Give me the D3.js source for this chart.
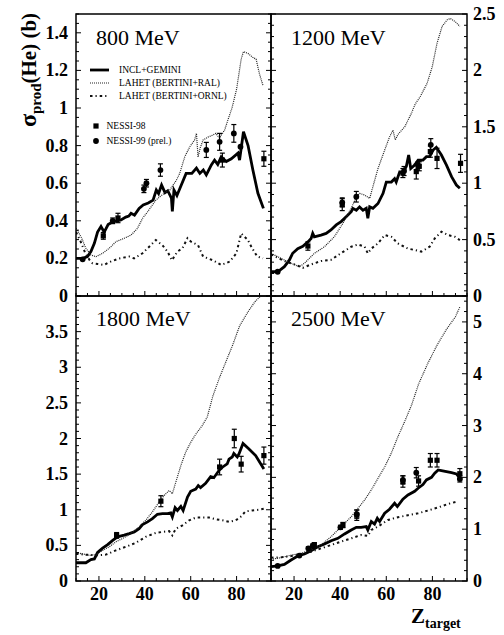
<!DOCTYPE html>
<html>
<head>
<meta charset="utf-8">
<script src="https://cdn.jsdelivr.net/npm/d3@7"></script>
<style>
  body { margin: 0; background: #fff; }
  svg { font-family: "Liberation Serif", "Times New Roman", serif; }
</style>
</head>
<body>
<svg id="chart" width="504" height="635"></svg>
<script>
// ---- data: [Z, sigma (b)] for models, [Z, sigma, err] for data
const energies = ["800 MeV", "1200 MeV", "1800 MeV", "2500 MeV"];
const yMax = [1.5, 2.5, 4, 5.5];
const yMajor = [0.2, 0.5, 0.5, 1];
const yMinor = [0.05, 0.1, 0.1, 0.2];
const yLabelMax = [1.4, 2.5, 3.5, 5];
const zTicks = [20, 40, 60, 80];

const incl800 = [[10,0.2],[13,0.2],[15,0.21],[16.5,0.236],[18,0.28],[19.4,0.34],[20.9,0.37],[22.3,0.34],[24,0.38],[26,0.395],[28,0.4],[29.6,0.404],[31.7,0.42],[33,0.425],[34,0.44],[35.5,0.43],[37.5,0.466],[39.3,0.484],[41.5,0.495],[43.6,0.51],[45,0.564],[46,0.545],[47.3,0.59],[48.8,0.55],[50,0.56],[51.6,0.52],[52,0.45],[52.7,0.564],[54,0.535],[55.9,0.59],[58,0.652],[60.5,0.652],[62.5,0.68],[64,0.652],[65.5,0.67],[66.8,0.644],[69,0.697],[70.4,0.723],[71.8,0.7],[73.3,0.74],[75.5,0.715],[77.7,0.73],[80.6,0.76],[81.3,0.723],[83,0.874],[85,0.8],[87.1,0.67],[89.3,0.546],[91.7,0.466]];
const ral800 = [[10,0.36],[12.2,0.315],[14.3,0.254],[16.5,0.218],[18.7,0.209],[21.6,0.227],[24.5,0.254],[27.4,0.289],[31,0.307],[34,0.324],[36.8,0.36],[39,0.413],[41.2,0.448],[44.8,0.51],[48.4,0.546],[50.9,0.564],[53.8,0.617],[55.2,0.652],[57.4,0.74],[59.6,0.794],[61.7,0.83],[62.5,0.865],[63.2,0.74],[64.2,0.79],[65.4,0.83],[67.5,0.845],[69.7,0.856],[71,0.865],[72.5,0.84],[74.8,0.883],[76.2,0.936],[78,1.0],[80,1.1],[82,1.26],[83,1.3],[85,1.29],[87,1.27],[88.5,1.26],[90,1.18],[91.5,1.12]];
const ornl800 = [[10,0.34],[12,0.29],[14,0.23],[16,0.19],[17.2,0.174],[19.5,0.17],[22.3,0.165],[24.5,0.18],[28.8,0.2],[33.2,0.21],[35.3,0.2],[39,0.227],[41.9,0.262],[44.8,0.298],[47.7,0.27],[49.9,0.236],[51.8,0.19],[54.2,0.236],[56.4,0.254],[58.6,0.307],[60,0.29],[63.2,0.27],[65.4,0.21],[69.7,0.19],[73.3,0.165],[77,0.183],[79.9,0.227],[82,0.333],[84.9,0.298],[86.5,0.26],[89,0.21],[91.5,0.2]];
const n98_800 = [[21.9,0.32,0.018],[28.3,0.415,0.025],[73.8,0.723,0.037],[91.9,0.73,0.04]];
const n99_800 = [[12.9,0.195,0],[26,0.4,0.015],[39.6,0.57,0.02],[40.7,0.6,0.02],[46.8,0.67,0.033],[66.8,0.777,0.04],[72.6,0.82,0.045],[78.8,0.865,0.047],[81.7,0.794,0]];

const incl1200 = [[10,0.215],[12.9,0.215],[15.8,0.26],[18,0.32],[19.4,0.379],[21.6,0.42],[23.8,0.44],[26,0.48],[27.4,0.51],[28.1,0.555],[28.8,0.525],[31.7,0.54],[33.9,0.555],[36,0.585],[38.3,0.63],[40.4,0.66],[42.6,0.703],[44.8,0.747],[45.5,0.777],[47,0.76],[48.4,0.79],[49.9,0.76],[51.3,0.777],[52,0.688],[52.8,0.79],[54.2,0.777],[56.4,0.82],[58.6,0.91],[60,1.01],[62.2,1.01],[63.6,1.04],[64.3,1.01],[65.8,1.1],[67.2,1.09],[68.7,1.15],[69.7,1.25],[70.6,1.13],[72.3,1.16],[73.8,1.205],[75.9,1.205],[77.4,1.235],[78.8,1.235],[80.3,1.294],[81.7,1.318],[83.9,1.25],[86.1,1.16],[88.3,1.058],[90.4,0.984],[91.9,0.955]];
const ral1200 = [[10,0.378],[14.3,0.334],[18.7,0.29],[22.3,0.26],[24.5,0.29],[28.8,0.378],[33.2,0.437],[37.5,0.526],[41.2,0.645],[44.8,0.777],[47,0.88],[48.4,0.91],[50.6,0.895],[52.8,0.865],[54.2,0.97],[56.4,1.13],[59.3,1.294],[61.4,1.41],[62.9,1.47],[63.9,1.383],[65,1.43],[68,1.5],[70.9,1.62],[72.5,1.7],[74.8,1.77],[77.7,1.886],[79.9,2.03],[82,2.24],[84.2,2.39],[86.5,2.45],[87.8,2.46],[90,2.43],[91.9,2.39]];
const ornl1200 = [[10,0.37],[15.8,0.31],[20.1,0.28],[23.8,0.25],[27.4,0.28],[31.7,0.31],[36,0.32],[40.4,0.38],[44.8,0.437],[47.7,0.457],[50.6,0.437],[52,0.378],[53.5,0.42],[56.4,0.466],[59.3,0.54],[62.2,0.525],[65,0.466],[69.4,0.42],[72.3,0.408],[75.2,0.393],[78.8,0.437],[81,0.51],[83.9,0.57],[86.8,0.54],[89.7,0.525],[91.9,0.496]];
const n98_1200 = [[26,0.443,0.037],[40.9,0.81,0.053],[67.2,1.09,0.04],[73,1.103,0.066],[74.3,1.15,0.04],[79.1,1.28,0.05],[82,1.22,0.09],[92.2,1.176,0.08]];
const n99_1200 = [[12.9,0.215,0],[40.9,0.83,0.04],[47,0.88,0.047],[67.7,1.108,0.04],[73.8,1.16,0.03],[79.3,1.34,0.055]];

const incl1800 = [[10,0.256],[14.3,0.256],[16.5,0.3],[18,0.31],[19.4,0.4],[21.6,0.46],[23.8,0.51],[26,0.57],[28.1,0.62],[31,0.643],[33.2,0.665],[35.4,0.689],[37.5,0.735],[39,0.792],[41.2,0.83],[43.3,0.875],[45.5,0.936],[47.7,0.945],[49.9,0.945],[51.3,0.955],[52,0.898],[53.2,1.03],[54.2,0.99],[55.7,1.047],[56.7,0.99],[58.6,1.178],[60,1.26],[62.2,1.29],[63.3,1.34],[64.3,1.31],[66.5,1.37],[68.7,1.466],[70.1,1.45],[72.3,1.55],[73.8,1.597],[75.9,1.643],[76.7,1.71],[78.1,1.74],[78.8,1.79],[80.3,1.74],[81,1.78],[82.8,1.93],[85.4,1.854],[88.3,1.76],[91.9,1.572]];
const ral1800 = [[10,0.4],[12.9,0.38],[15.8,0.36],[18.7,0.37],[21.6,0.43],[24.5,0.48],[27.4,0.55],[30.3,0.596],[33.9,0.665],[37.5,0.76],[40.4,0.852],[43.3,0.969],[46.2,1.108],[48.4,1.2],[50.6,1.27],[52,1.225],[53.5,1.387],[55.7,1.62],[57.8,1.807],[60,1.946],[62.2,2.06],[63.6,2.12],[65,2.18],[67.2,2.3],[69.7,2.6],[72.5,2.85],[75.5,3.09],[78.4,3.32],[81.3,3.58],[85,3.78],[88,3.92],[90.5,4.0],[92,4.1]];
const ornl1800 = [[10,0.38],[14.3,0.37],[18.7,0.36],[23,0.37],[27.4,0.43],[31.7,0.48],[36,0.535],[40.4,0.62],[44.8,0.675],[47.7,0.689],[50.6,0.7],[52,0.64],[53.5,0.735],[56.4,0.78],[59.3,0.85],[62.2,0.89],[65,0.89],[68,0.89],[70.9,0.866],[73.8,0.852],[76.7,0.83],[79.6,0.852],[81.7,0.898],[83.9,0.977],[86.8,0.99],[89.7,1.0],[91.9,1.015]];
const n98_1800 = [[27.7,0.64,0.04],[47,1.12,0.077],[72.6,1.6,0.11],[79,2.0,0.13],[82,1.64,0.11],[91.9,1.76,0.12]];
const n99_1800 = [];

const incl2500 = [[10,0.277],[12.9,0.29],[15.8,0.32],[18.7,0.405],[21.6,0.483],[24.5,0.52],[27.4,0.585],[30.3,0.66],[33.2,0.714],[36.1,0.778],[39,0.823],[41.9,0.908],[44.8,0.985],[47,1.036],[49.1,1.036],[51.3,1.049],[52,0.985],[53.5,1.147],[54.9,1.1],[56.1,1.21],[57.1,1.147],[59.3,1.307],[61.4,1.385],[63.6,1.5],[64.8,1.436],[67.2,1.58],[69.4,1.66],[72.3,1.73],[73.8,1.79],[75.9,1.86],[77.4,1.95],[79.6,2.0],[81,2.08],[82.5,2.143],[83.9,2.13],[88.3,2.092],[90.4,2.066],[91.9,1.983]];
const ral2500 = [[10,0.418],[14.3,0.45],[18.7,0.5],[23,0.535],[27.4,0.6],[31.7,0.695],[36.1,0.856],[39,0.985],[41.9,1.114],[44.8,1.24],[47.7,1.4],[50.6,1.564],[53.5,1.757],[56.4,1.982],[59.3,2.2],[62.2,2.47],[65,2.78],[68,3.08],[71,3.4],[74,3.8],[78,4.2],[82,4.55],[86,4.85],[90,5.1],[92,5.3]];
const ornl2500 = [[10,0.45],[14.3,0.456],[18.7,0.48],[23,0.515],[27.4,0.566],[31.7,0.63],[36.1,0.695],[40.4,0.76],[44.8,0.823],[49.1,0.888],[52,0.87],[53.5,0.985],[56.4,1.05],[60.7,1.178],[65,1.23],[69.4,1.27],[73.8,1.307],[78.1,1.36],[82.5,1.42],[86.8,1.487],[90.4,1.53]];
const n98_2500 = [[28.8,0.7,0.04],[41.2,1.08,0.05],[47.2,1.27,0.1],[67.2,1.92,0.11],[74,1.93,0.1],[79.1,2.33,0.13],[82,2.33,0.13],[91.9,2.07,0.1]];
const n99_2500 = [[12.9,0.29,0],[22.3,0.49,0],[26.2,0.63,0.03],[28.1,0.675,0.04],[40.1,1.036,0.04],[47.2,1.29,0.08],[67.2,1.95,0.08],[73,2.09,0.1],[91.9,1.97,0.06]];

const incl = [incl800, incl1200, incl1800, incl2500];
const ral = [ral800, ral1200, ral1800, ral2500];
const ornl = [ornl800, ornl1200, ornl1800, ornl2500];
const n98 = [n98_800, n98_1200, n98_1800, n98_2500];
const n99 = [n99_800, n99_1200, n99_1800, n99_2500];

const legendItems = ["INCL+GEMINI", "LAHET (BERTINI+RAL)", "LAHET (BERTINI+ORNL)"];
const legendData = ["NESSI-98", "NESSI-99 (prel.)"];

// ---- layout
const svg = d3.select("#chart");
const colX = [[76, 271], [271, 467]];
const rowY = [[14, 296], [296, 581]];

const lineStyles = [
  { w: 2.8, dash: null, color: "#000" },
  { w: 1.2, dash: "1,1", color: "#222" },
  { w: 2, dash: "2.5,3,1.2,3", color: "#111" }
];

const fmt = (v) => String(+v.toFixed(2));

energies.forEach((label, i) => {
  const col = i % 2, row = Math.floor(i / 2);
  const x = d3.scaleLinear().domain([10, 95]).range(colX[col]);
  const y = d3.scaleLinear().domain([0, yMax[i]]).range([rowY[row][1], rowY[row][0]]);
  const g = svg.append("g");

  const clipId = "clip" + i;
  svg.append("clipPath").attr("id", clipId).append("rect")
    .attr("x", colX[col][0]).attr("y", rowY[row][0])
    .attr("width", colX[col][1] - colX[col][0]).attr("height", rowY[row][1] - rowY[row][0]);

  // model curves
  const line = d3.line().x((d) => x(d[0])).y((d) => y(d[1]));
  [incl[i], ral[i], ornl[i]].forEach((series, k) => {
    g.append("path")
      .datum(series)
      .attr("clip-path", `url(#${clipId})`)
      .attr("d", line)
      .attr("fill", "none")
      .attr("stroke", lineStyles[k].color)
      .attr("stroke-width", lineStyles[k].w)
      .attr("stroke-dasharray", lineStyles[k].dash)
      .attr("stroke-linejoin", "miter");
  });

  // data points with error bars
  const pts = n98[i].map((d) => ({ d, sq: true })).concat(n99[i].map((d) => ({ d, sq: false })));
  const pg = g.selectAll("g.pt").data(pts).enter().append("g").attr("class", "pt");
  pg.filter((p) => p.d[2] > 0).each(function (p) {
    const s = d3.select(this), cx = x(p.d[0]);
    const y1 = y(p.d[1] - p.d[2]), y2 = y(p.d[1] + p.d[2]);
    s.append("line").attr("x1", cx).attr("x2", cx).attr("y1", y1).attr("y2", y2).attr("stroke", "#000").attr("stroke-width", 1.2);
    [y1, y2].forEach((yy) => s.append("line").attr("x1", cx - 2.5).attr("x2", cx + 2.5).attr("y1", yy).attr("y2", yy).attr("stroke", "#000").attr("stroke-width", 1.2));
  });
  pg.each(function (p) {
    const s = d3.select(this), cx = x(p.d[0]), cy = y(p.d[1]);
    if (p.sq) s.append("rect").attr("x", cx - 2.6).attr("y", cy - 2.6).attr("width", 5.2).attr("height", 5.2).attr("fill", "#000");
    else s.append("circle").attr("cx", cx).attr("cy", cy).attr("r", 2.9).attr("fill", "#000");
  });

  // frame
  g.append("rect")
    .attr("x", colX[col][0]).attr("y", rowY[row][0])
    .attr("width", colX[col][1] - colX[col][0]).attr("height", rowY[row][1] - rowY[row][0])
    .attr("fill", "none").attr("stroke", "#000").attr("stroke-width", 1.5);

  // x ticks (bottom, inward)
  const xt = d3.range(10, 95.1, 5);
  g.selectAll("line.xt").data(xt).enter().append("line")
    .attr("x1", (d) => x(d)).attr("x2", (d) => x(d))
    .attr("y1", rowY[row][1]).attr("y2", (d) => rowY[row][1] - (d % 20 === 0 ? 5 : 3))
    .attr("stroke", "#000").attr("stroke-width", 1);

  // y ticks (both sides, inward)
  const nMinor = Math.round(yMax[i] / yMinor[i]);
  const yt = d3.range(0, nMinor + 1).map((k) => k * yMinor[i]);
  const isMajor = (v) => Math.abs(v / yMajor[i] - Math.round(v / yMajor[i])) < 1e-6;
  [colX[col][0], colX[col][1]].forEach((edge, side) => {
    const dir = side === 0 ? 1 : -1;
    g.selectAll(null).data(yt).enter().append("line")
      .attr("y1", (d) => y(d)).attr("y2", (d) => y(d))
      .attr("x1", edge).attr("x2", (d) => edge + dir * (isMajor(d) ? 5 : 3))
      .attr("stroke", "#000").attr("stroke-width", 1);
  });

  // y tick labels
  const labels = d3.range(0, Math.round(yLabelMax[i] / yMajor[i]) + 1).map((k) => k * yMajor[i]);
  g.selectAll("text.yl").data(labels).enter().append("text")
    .attr("x", col === 0 ? 68 : 473)
    .attr("y", (d) => y(d) + 6)
    .attr("text-anchor", col === 0 ? "end" : "start")
    .attr("font-size", 18).attr("font-weight", "bold")
    .text(fmt);

  // x tick labels on bottom row
  if (row === 1) {
    g.selectAll("text.xl").data(zTicks).enter().append("text")
      .attr("x", (d) => x(d)).attr("y", 600)
      .attr("text-anchor", "middle")
      .attr("font-size", 18).attr("font-weight", "bold")
      .text((d) => d);
  }

  // energy label
  g.append("text")
    .attr("x", colX[col][0] + 20)
    .attr("y", row === 0 ? 45 : 326)
    .attr("font-size", 22)
    .text(label);
});

// legend (first panel)
const lg = svg.append("g");
const legY = [70, 83, 96];
legendItems.forEach((t, k) => {
  lg.append("line").attr("x1", 90).attr("x2", 109).attr("y1", legY[k]).attr("y2", legY[k])
    .attr("stroke", lineStyles[k].color).attr("stroke-width", lineStyles[k].w)
    .attr("stroke-dasharray", lineStyles[k].dash);
  lg.append("text").attr("x", 119).attr("y", legY[k] + 3.3).attr("font-size", 9.5).text(t);
});
const dataY = [126, 141];
legendData.forEach((t, k) => {
  if (k === 0) lg.append("rect").attr("x", 93.4).attr("y", dataY[k] - 2.6).attr("width", 5.2).attr("height", 5.2);
  else lg.append("circle").attr("cx", 96).attr("cy", dataY[k]).attr("r", 2.9);
  lg.append("text").attr("x", 106.5).attr("y", dataY[k] + 3.3).attr("font-size", 9.5).text(t);
});

// axis titles
const yt = svg.append("text")
  .attr("transform", "translate(36,70) rotate(-90)")
  .attr("text-anchor", "middle")
  .attr("font-size", 21).attr("font-weight", "bold");
yt.append("tspan").attr("font-size", 24).text("σ");
yt.append("tspan").attr("font-size", 15).attr("dy", 5).text("prod");
yt.append("tspan").attr("dy", -5).text("(He) (b)");

const xtit = svg.append("text")
  .attr("x", 411).attr("y", 623)
  .attr("font-size", 21).attr("font-weight", "bold");
xtit.append("tspan").text("Z");
xtit.append("tspan").attr("font-size", 14).attr("dy", 5).text("target");
</script>
</body>
</html>
